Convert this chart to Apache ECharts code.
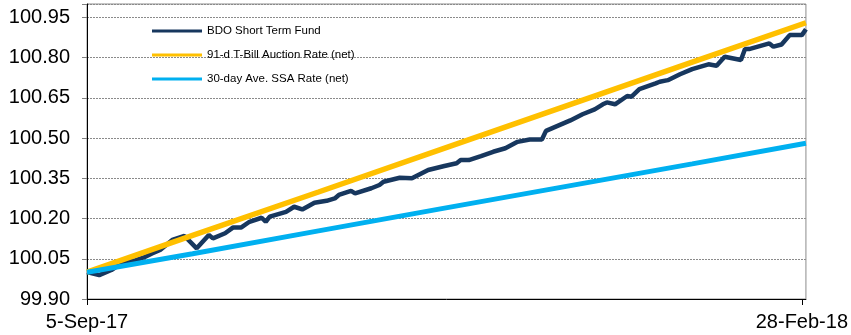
<!DOCTYPE html>
<html>
<head>
<meta charset="utf-8">
<script src="https://cdn.jsdelivr.net/npm/echarts@6/dist/echarts.min.js"></script>
<style>
  html, body { margin: 0; padding: 0; background: #ffffff; }
  #chart { width: 851px; height: 335px; }
</style>
</head>
<body>
<div id="chart"></div>
<script>
// Series names (legend order)
const seriesNames = ['BDO Short Term Fund', '91-d T-Bill Auction Rate (net)', '30-day Ave. SSA Rate (net)'];

// BDO Short Term Fund NAVPU path
const fundDates = [
  '2017-09-05','2017-09-08','2017-09-11','2017-09-14','2017-09-17','2017-09-19','2017-09-21','2017-09-23',
  '2017-09-26','2017-09-29','2017-10-02','2017-10-05','2017-10-06','2017-10-09','2017-10-11','2017-10-13',
  '2017-10-15','2017-10-18','2017-10-19','2017-10-20','2017-10-24','2017-10-26','2017-10-28','2017-10-31',
  '2017-11-03','2017-11-05','2017-11-06','2017-11-09','2017-11-10','2017-11-14','2017-11-16','2017-11-17',
  '2017-11-21','2017-11-24','2017-11-28','2017-12-02','2017-12-05','2017-12-06','2017-12-08','2017-12-11',
  '2017-12-14','2017-12-17','2017-12-20','2017-12-23','2017-12-26','2017-12-27','2017-12-29','2018-01-02',
  '2018-01-05','2018-01-08','2018-01-10','2018-01-11','2018-01-13','2018-01-16','2018-01-17','2018-01-19',
  '2018-01-23','2018-01-24','2018-01-26','2018-01-29','2018-02-01','2018-02-05','2018-02-07','2018-02-09',
  '2018-02-13','2018-02-14','2018-02-15','2018-02-20','2018-02-21','2018-02-23','2018-02-25','2018-02-28',
  '2018-03-01'
];
const fundValues = [
  100.000, 99.989,100.008,100.039,100.045,100.055,100.070,100.083,
  100.120,100.135,100.089,100.139,100.126,100.145,100.167,100.167,
  100.188,100.203,100.188,100.207,100.225,100.244,100.234,100.259,
  100.266,100.275,100.288,100.303,100.294,100.313,100.325,100.337,
  100.352,100.350,100.381,100.396,100.406,100.418,100.418,100.433,
  100.449,100.462,100.486,100.495,100.495,100.527,100.540,100.566,
  100.589,100.607,100.626,100.633,100.626,100.657,100.654,100.683,
  100.704,100.710,100.716,100.738,100.757,100.775,100.770,100.803,
  100.791,100.832,100.832,100.853,100.841,100.849,100.884,100.884,
  100.906
];

// Benchmark accrual paths (month-start readings)
const benchDates = ['2017-09-05','2017-10-01','2017-11-01','2017-12-01','2018-01-01','2018-02-01','2018-03-01'];
const tbillValues = [100.000, 100.137, 100.299, 100.457, 100.620, 100.783, 100.930];
const ssaValues   = [100.000, 100.069, 100.154, 100.236, 100.320, 100.404, 100.481];

// Axis settings
const xStart = '2017-09-05';
const xEnd = '2018-03-01';
const xLabelDates = ['2017-09-05', '2018-02-28'];
const yMin = 99.90, yMax = 101.00, yStep = 0.15;

const monthNames = ['Jan','Feb','Mar','Apr','May','Jun','Jul','Aug','Sep','Oct','Nov','Dec'];
function toTime(s) {
  const p = s.split('-');
  return new Date(+p[0], +p[1] - 1, +p[2]).getTime();
}
function fmtDate(t) {
  const d = new Date(t);
  return d.getDate() + '-' + monthNames[d.getMonth()] + '-' + String(d.getFullYear()).slice(2);
}
function pairs(dates, vals) {
  return dates.map((d, i) => [toTime(d), vals[i]]);
}

const colors = ['#17375E', '#FFC000', '#00B0F0'];
const widths = [4.5, 5.5, 5];
const seriesData = [
  pairs(fundDates, fundValues),
  pairs(benchDates, tbillValues),
  pairs(benchDates, ssaValues)
];

const chart = echarts.init(document.getElementById('chart'), null, { renderer: 'canvas' });
const font = '"Liberation Sans", Arial, sans-serif';
const labelTimes = xLabelDates.map(toTime);

chart.setOption({
  animation: false,
  backgroundColor: '#ffffff',
  grid: {
    left: 87, right: 44, top: 4, bottom: 36,
    show: true, borderColor: '#8c8c8c', borderWidth: 1, backgroundColor: 'transparent'
  },
  legend: {
    orient: 'vertical',
    left: 147, top: 20,
    icon: 'rect',
    itemWidth: 50, itemHeight: 3,
    itemGap: 12,
    data: seriesNames,
    textStyle: { fontFamily: font, fontSize: 11.5, color: '#000000' }
  },
  xAxis: {
    type: 'value',
    min: toTime(xStart),
    max: toTime(xEnd),
    axisLine: { show: true, lineStyle: { color: '#000000', width: 1 } },
    axisTick: { show: true, length: 6, customValues: labelTimes, lineStyle: { color: '#000000' } },
    axisLabel: {
      customValues: labelTimes,
      formatter: v => fmtDate(v),
      fontFamily: font, fontSize: 20, color: '#000000', margin: 13
    },
    splitLine: { show: false }
  },
  yAxis: {
    type: 'value',
    min: yMin, max: yMax, interval: yStep,
    axisLine: { show: true, lineStyle: { color: '#000000', width: 1 } },
    axisTick: { show: true, length: 5, lineStyle: { color: '#808080' } },
    axisLabel: {
      formatter: v => (v > yMax - 0.01 ? '' : v.toFixed(2)),
      fontFamily: font, fontSize: 20, color: '#000000', margin: 17
    },
    splitLine: { show: true, lineStyle: { color: '#8a8a8a', width: 1, type: [2, 1] } }
  },
  series: seriesNames.map((name, i) => ({
    name: name,
    type: 'line',
    data: seriesData[i],
    symbol: 'none',
    showSymbol: false,
    color: colors[i],
    lineStyle: { color: colors[i], width: widths[i] },
    z: 2 + i
  }))
});
</script>
</body>
</html>
